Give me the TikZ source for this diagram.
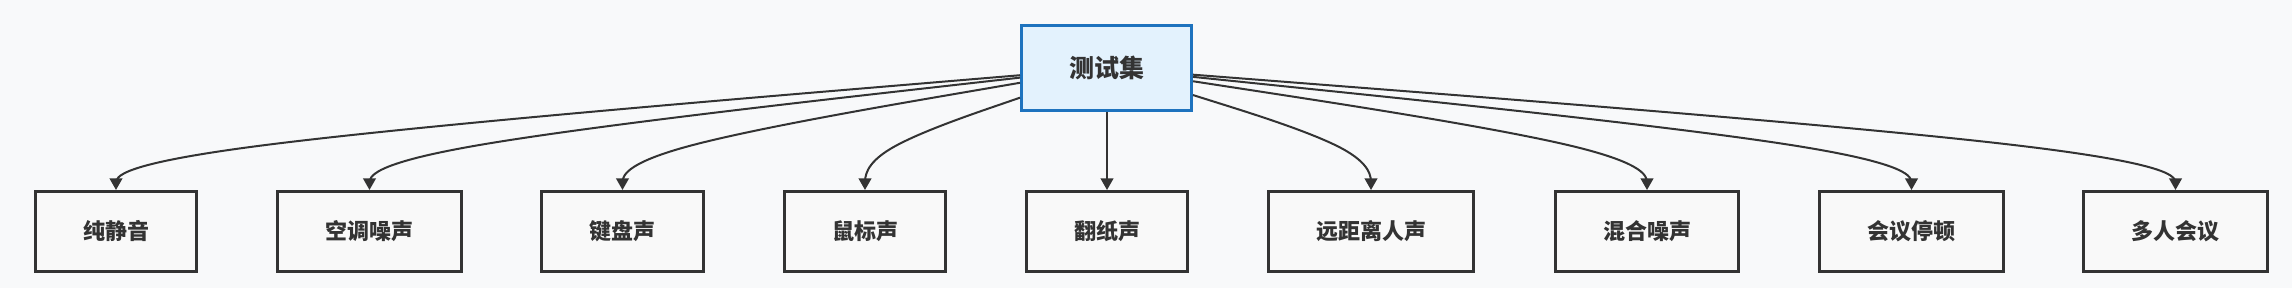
\documentclass[tikz,border=0pt]{standalone}
\usepackage{fontspec}
\newfontfamily\cjk{Noto Sans CJK SC}
\usetikzlibrary{arrows.meta,calc}
\definecolor{bg}{HTML}{F8F9FA}
\definecolor{ink}{HTML}{333333}
\definecolor{leaffill}{HTML}{F9F9F9}
\definecolor{rootfill}{HTML}{E3F2FD}
\definecolor{rootblue}{HTML}{1E73BE}
\tikzset{
  leafbox/.style={draw=ink, fill=leaffill, line width=2.8pt, minimum height=80.2pt, inner sep=0pt,
    font=\cjk\bfseries\fontsize{22}{26}\selectfont, text=ink},
  rootbox/.style={draw=rootblue, fill=rootfill, line width=2.8pt, minimum width=170.2pt, minimum height=85.2pt, inner sep=0pt,
    font=\cjk\bfseries\fontsize{25}{30}\selectfont, text=ink},
  edge/.style={draw=ink, line width=2pt, -{Triangle[width=12.5pt,length=11.5pt]}},
}
\newcommand\fanedge[1]{%
  \coordinate (m#1) at (#1.north |- mid);
  \path (root) -- (m#1) coordinate[pos=0] (s#1);
  \coordinate (a#1) at ($(s#1)!2/3!(m#1)$);
  \coordinate (b#1) at ($(m#1)!1/3!(#1.north)$);
  \draw[edge] (s#1) -- ($(s#1)!1/6!(m#1)$) .. controls ($(s#1)!1/3!(m#1)$) and (a#1) .. ($(a#1)!0.5!(b#1)$) .. controls (b#1) and ($(m#1)!2/3!(#1.north)$) .. ($(m#1)!5/6!(#1.north)$) -- (#1.north);
}
\begin{document}
\begin{tikzpicture}[x=1pt,y=1pt]
  \path[fill=bg, use as bounding box] (0,0) rectangle (2292,-288);
  \coordinate (mid) at (0,-151);
  \node[rootbox] (root) at (1106.5,-68) {测试集};
  \node[leafbox, minimum width=161.2pt] (l1) at (116,-231.5) {纯静音};
  \node[leafbox, minimum width=184.2pt] (l2) at (369.5,-231.5) {空调噪声};
  \node[leafbox, minimum width=162.2pt] (l3) at (622.5,-231.5) {键盘声};
  \node[leafbox, minimum width=161.2pt] (l4) at (865,-231.5) {鼠标声};
  \node[leafbox, minimum width=161.2pt] (l5) at (1107,-231.5) {翻纸声};
  \node[leafbox, minimum width=205.2pt] (l6) at (1371,-231.5) {远距离人声};
  \node[leafbox, minimum width=183.2pt] (l7) at (1647,-231.5) {混合噪声};
  \node[leafbox, minimum width=184.2pt] (l8) at (1911.5,-231.5) {会议停顿};
  \node[leafbox, minimum width=184.2pt] (l9) at (2175.5,-231.5) {多人会议};
  \fanedge{l1}
  \fanedge{l2}
  \fanedge{l3}
  \fanedge{l4}
  \draw[edge] (root.south -| l5.north) -- (l5.north);
  \fanedge{l6}
  \fanedge{l7}
  \fanedge{l8}
  \fanedge{l9}
\end{tikzpicture}
\end{document}
